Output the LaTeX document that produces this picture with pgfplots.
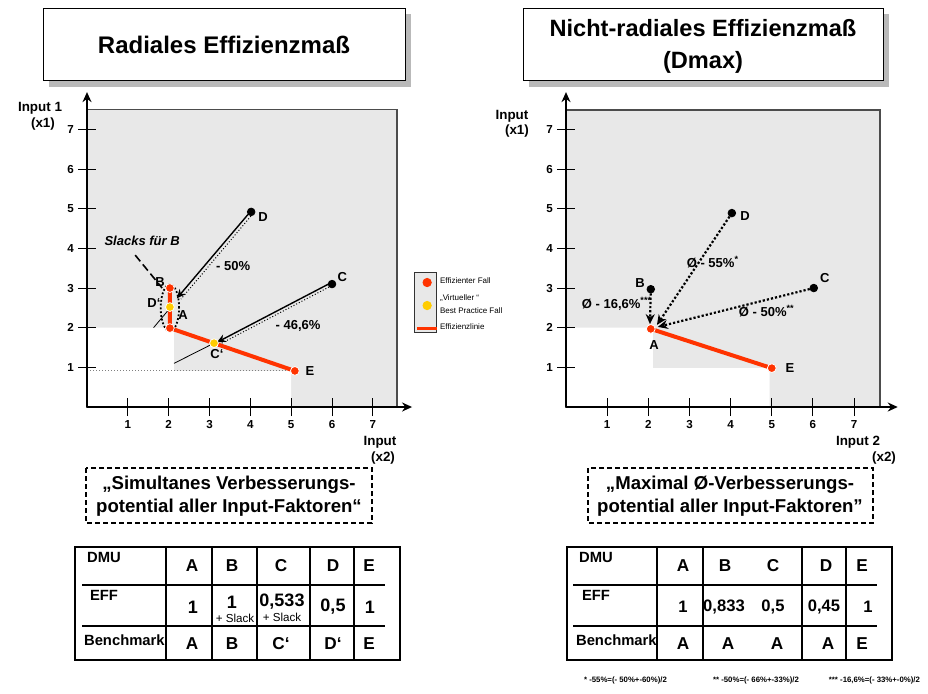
\documentclass[border=0pt]{standalone}
\usepackage{pgfplots}
\pgfplotsset{compat=1.18}
\usepackage{fontspec}
\setmainfont{Liberation Sans}
\usetikzlibrary{arrows.meta}

\definecolor{effred}{HTML}{FF3300}
\definecolor{virtyellow}{HTML}{FFCC00}
\definecolor{boxgray}{HTML}{E8E8E8}
\newcommand\fsz[2]{\fontsize{#1}{#2}\selectfont\bfseries}

\pgfplotsset{
  dea/.style={
    anchor=south west,
    xmin=0, ymin=0,
    axis lines=left,
    axis line style={line width=1.1pt, -{Stealth[length=5pt,width=4.5pt]}},
    axis on top, clip=false,
    xtick={1,...,7}, ytick={1,...,7},
    tick align=center, major tick length=9pt,
    tick style={black, line width=0.5pt},
    ticklabel style={font=\fsz{5.8}{7}},
    xticklabel style={yshift=1.5pt},
    yticklabel style={xshift=1.5pt},
    /pgf/number format/assume math mode=true,
  },
}
\tikzset{lbl/.style={font=\fsz{6.5}{7.5}}}

\begin{document}
\begin{tikzpicture}
% ---------------- left: radial measure ----------------
\begin{axis}[dea, at={(43.5pt,-203.5pt)}, x=20.42pt, y=19.83pt, xmax=7.96, ymax=7.94,
  legend style={at={(axis cs:8.03,3.29)}, anchor=north west, draw=none, fill=none,
    font=\fontsize{4}{4.6}\selectfont, inner sep=0pt, row sep=2.7pt,
    nodes={inner sep=0.6pt}},
  legend cell align=left,
  /tikz/every even column/.append style={column sep=4pt}]
\addlegendimage{legend image code/.code={\fill[effred] (5.5pt,0pt) circle (2.1pt);}}
\addlegendentry{Effizienter Fall}
\addlegendimage{legend image code/.code={\fill[virtyellow] (5.5pt,0pt) circle (2.1pt);}}
\addlegendentry{\shortstack[l]{„Virtueller “\\Best Practice Fall}}
\addlegendimage{legend image code/.code={\draw[effred, line width=1.8pt] (0.5pt,0pt) -- (10.5pt,0pt);}}
\addlegendentry{Effizienzlinie}

\addplot[fill=boxgray, draw=gray!60!black, line width=0.6pt] coordinates {(0,0) (7.59,0) (7.59,7.51) (0,7.51)} -- cycle;
\addplot[fill=white, draw=none] coordinates {(0,0) (5.0,0) (5.0,0.91) (2.13,0.91) (2.13,2) (0,2)} -- cycle;
\addplot[gray, densely dotted, line width=0.5pt] coordinates {(0,0.91) (5.0,0.91)};
\addplot[black, line width=0.4pt] coordinates {(1.63,2) (2.03,2.49)};
\addplot[black, line width=0.4pt] coordinates {(2.13,1.1) (3.11,1.61)};
\addplot[black, dash pattern=on 4pt off 2pt, line width=0.8pt] coordinates {(1.18,3.83) (1.84,3.0)};
\addplot[effred, line width=2pt] coordinates {(2.03,3.0) (2.03,1.99) (5.09,0.91)};
\draw[black, densely dotted, line width=0.9pt] (axis cs:2.03,2.5) ellipse [x radius=4.6pt, y radius=11.7pt];
\addplot[only marks, mark=*, mark size=2.2pt, mark options={fill=effred, draw=white, line width=0.4pt}] coordinates {(2.03,1.99) (2.03,3.0) (5.09,0.91)};
\addplot[only marks, mark=*, mark size=2.2pt, mark options={fill=virtyellow, draw=white, line width=0.4pt}] coordinates {(2.03,2.52) (3.11,1.61)};
\addplot[only marks, mark=*, mark size=1.9pt, black] coordinates {(4.02,4.92) (6.0,3.1)};
% projection arrows
\addplot[black, line width=0.7pt, -{Stealth[length=4.5pt,width=4pt]}] coordinates {(3.98,4.9) (2.2,2.74)};
\addplot[black, line width=0.5pt, densely dotted] coordinates {(4.06,4.87) (2.3,2.72)};
\addplot[black, line width=0.7pt, -{Stealth[length=4.5pt,width=4pt]}] coordinates {(5.97,3.13) (3.18,1.63)};
\addplot[black, line width=0.5pt, densely dotted] coordinates {(5.99,3.06) (3.3,1.61)};
% box around legend symbols
\draw[gray!40!black, fill=boxgray, line width=0.5pt] (axis cs:8.03,1.87) rectangle (axis cs:8.57,3.40);

\node[lbl] at (axis cs:4.31,4.79) {D};
\node[lbl] at (axis cs:6.25,3.28) {C};
\node[lbl] at (axis cs:1.79,3.15) {B};
\node[lbl] at (axis cs:1.64,2.62) {D‘};
\node[lbl] at (axis cs:2.35,2.32) {A};
\node[lbl] at (axis cs:3.18,1.34) {C‘};
\node[lbl] at (axis cs:5.46,0.91) {E};
\node[lbl] at (axis cs:3.58,3.55) {- 50\%};
\node[lbl] at (axis cs:5.17,2.04) {- 46,6\%};
\node[lbl, font=\fsz{6.5}{7.5}\itshape] at (axis cs:1.35,4.18) {Slacks für B};
\end{axis}

% ---------------- right: non-radial measure ----------------
\begin{axis}[dea, at={(283pt,-203.5pt)}, x=20.58pt, y=19.83pt, xmax=8.06, ymax=7.94]
\addplot[fill=boxgray, draw=gray!60!black, line width=0.6pt] coordinates {(0,0) (7.63,0) (7.63,7.49) (0,7.49)} -- cycle;
\addplot[fill=white, draw=none] coordinates {(0,0) (4.95,0) (4.95,0.98) (2.11,0.98) (2.11,2) (0,2)} -- cycle;
\addplot[effred, line width=2pt] coordinates {(2.06,1.97) (5.0,0.98)};
\addplot[black, densely dotted, line width=1.1pt, -{Stealth[length=5pt,width=4.5pt]}] coordinates {(4.03,4.89) (2.21,2.07)};
\addplot[black, densely dotted, line width=1.1pt, -{Stealth[length=5pt,width=4.5pt]}] coordinates {(6.02,3.0) (2.23,2.02)};
\addplot[black, densely dotted, line width=1.1pt, -{Stealth[length=5pt,width=4.5pt]}] coordinates {(2.06,2.97) (2.04,2.09)};
\addplot[only marks, mark=*, mark size=2.2pt, mark options={fill=effred, draw=white, line width=0.4pt}] coordinates {(2.06,1.97) (5.0,0.98)};
\addplot[only marks, mark=*, mark size=1.9pt, black] coordinates {(2.06,2.97) (6.02,3.0) (4.03,4.89)};

\node[lbl] at (axis cs:4.35,4.81) {D};
\node[lbl] at (axis cs:6.29,3.25) {C};
\node[lbl] at (axis cs:1.8,3.13) {B};
\node[lbl] at (axis cs:2.14,1.56) {A};
\node[lbl] at (axis cs:5.44,0.98) {E};
\node[lbl] at (axis cs:3.57,3.66) {Ø - 55\%\textsuperscript{*}};
\node[lbl] at (axis cs:4.88,2.42) {Ø - 50\%\textsuperscript{**}};
\node[lbl] at (axis cs:1.24,2.6) {Ø - 16,6\%\textsuperscript{***}};
\end{axis}

% ---------------- frame texts (1 unit = 1 reference pixel) ----------------
\begin{scope}[x=0.5pt, y=-0.5pt]
% titles
\fill[gray!55] (49,14) rectangle (411,87);
\draw[fill=white, line width=0.5pt] (43,8) rectangle (405,80);
\node[font=\fsz{12}{14}] at (224,45) {Radiales Effizienzmaß};
\fill[gray!55] (529,14) rectangle (889,87);
\draw[fill=white, line width=0.5pt] (523,8) rectangle (883,80);
\node[font=\fsz{11.8}{16}, align=center] at (703,46) {Nicht-radiales Effizienzmaß\\(Dmax)};

% axis titles
\node[font=\fsz{6.7}{8}] at (40,108) {Input 1};
\node[font=\fsz{6.7}{8}] at (43,124) {(x1)};
\node[font=\fsz{6.7}{8}] at (512,116) {Input};
\node[font=\fsz{6.7}{8}] at (517,131) {(x1)};
\node[font=\fsz{6.7}{8}] at (380,442) {Input};
\node[font=\fsz{6.7}{8}] at (383,458) {(x2)};
\node[font=\fsz{6.7}{8}] at (858,442) {Input 2};
\node[font=\fsz{6.7}{8}] at (884,458) {(x2)};

% dashed captions
\draw[dash pattern=on 2.5pt off 1.5pt, line width=0.8pt] (86,468) rectangle (372,523);
\node[font=\fsz{9.3}{11.5}, align=center] at (229,496) {„Simultanes Verbesserungs-\\potential aller Input-Faktoren“};
\draw[dash pattern=on 2.5pt off 1.5pt, line width=0.8pt] (588,468) rectangle (873,523);
\node[font=\fsz{9.3}{11.5}, align=center] at (730,496) {„Maximal Ø-Verbesserungs-\\potential aller Input-Faktoren”};

% left table
\draw[line width=0.6pt] (75,547) rectangle (400,660);
\foreach \xx in {166,212,257,310,354} \draw[line width=0.6pt] (\xx,547) -- (\xx,660);
\draw[line width=0.6pt] (82,585) -- (385,585);
\draw[line width=0.6pt] (82,626) -- (385,626);
\node[font=\fsz{7.4}{9}, anchor=west] at (80,557) {DMU};
\node[font=\fsz{7.4}{9}, anchor=west] at (83,595) {EFF};
\node[font=\fsz{7.4}{9}, anchor=west] at (77,640) {Benchmark};
\foreach \xx/\tt in {192/A,232/B,281/C,333/D,369/E}
  \node[font=\fsz{8.6}{10}] at (\xx,566) {\tt};
\foreach \xx/\tt in {192/A,232/B,281/C‘,333/D‘,369/E}
  \node[font=\fsz{8.6}{10}] at (\xx,644) {\tt};
\node[font=\fsz{9}{10}] at (193,607) {1};
\node[font=\fsz{9}{10}] at (232,602) {1};
\node[font=\fsz{9}{10}] at (282,602) {0,533};
\node[font=\fsz{9}{10}] at (333,607) {0,5};
\node[font=\fsz{9}{10}] at (370,607) {1};
\node[font=\fontsize{5.8}{7}\selectfont] at (235,618) {+ Slack};
\node[font=\fontsize{5.8}{7}\selectfont] at (282,617) {+ Slack};

% right table
\draw[line width=0.6pt] (567,547) rectangle (892,660);
\foreach \xx in {657,703,802,846} \draw[line width=0.6pt] (\xx,547) -- (\xx,660);
\draw[line width=0.6pt] (573,585) -- (877,585);
\draw[line width=0.6pt] (573,626) -- (877,626);
\node[font=\fsz{7.4}{9}, anchor=west] at (572,557) {DMU};
\node[font=\fsz{7.4}{9}, anchor=west] at (575,595) {EFF};
\node[font=\fsz{7.4}{9}, anchor=west] at (569,640) {Benchmark};
\foreach \xx/\tt in {683/A,725/B,773/C,826/D,862/E}
  \node[font=\fsz{8.6}{10}] at (\xx,566) {\tt};
\foreach \xx/\tt in {683/A,728/A,777/A,828/A,862/E}
  \node[font=\fsz{8.6}{10}] at (\xx,644) {\tt};
\foreach \xx/\tt in {683/1,724/{0,833},773/{0,5},824/{0,45},868/1}
  \node[font=\fsz{8.3}{10}] at (\xx,607) {\tt};

% footnotes
\node[font=\fsz{3.9}{5}, anchor=west] at (577,680) {* -55\%=(- 50\%+-60\%)/2};
\node[font=\fsz{3.9}{5}, anchor=west] at (706,680) {** -50\%=(- 66\%+-33\%)/2};
\node[font=\fsz{3.9}{5}, anchor=east] at (927,680) {*** -16,6\%=(- 33\%+-0\%)/2};
\end{scope}

\pgfresetboundingbox
\path[use as bounding box] (0,0) rectangle (464pt,-346.5pt);
\end{tikzpicture}
\end{document}
